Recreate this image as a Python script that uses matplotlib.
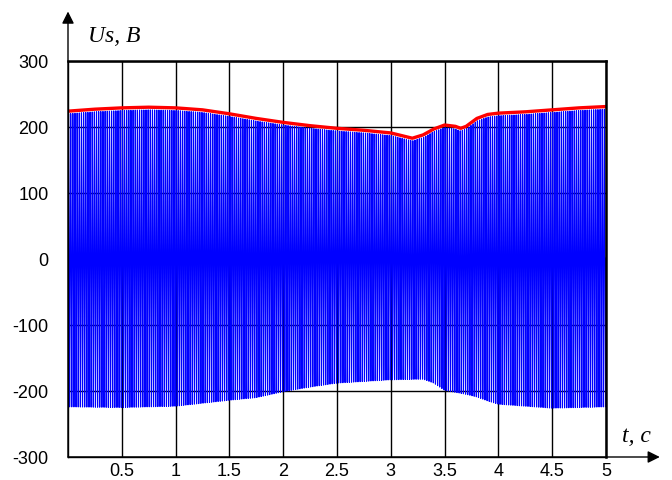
import numpy as np
import matplotlib
matplotlib.use("Agg")
import matplotlib.pyplot as plt

plt.rcParams["axes.unicode_minus"] = False

# values
f_hz = 50.0  # supply frequency of the voltage

# red envelope line (peak voltage), t in s, U in V
env_t = [0, 0.25, 0.5, 0.75, 1.0, 1.25, 1.5, 1.75, 2.0, 2.25, 2.5, 2.75,
         3.0, 3.1, 3.2, 3.3, 3.4, 3.5, 3.6, 3.65, 3.7, 3.8, 3.9, 4.0,
         4.25, 4.5, 4.75, 5.0]
env_u = [224, 227, 229, 230, 229, 226, 220, 213, 207, 202, 198, 195,
         191, 187, 183, 188, 197, 203, 201, 198, 201, 213, 219, 221,
         223, 226, 229, 231]

# blue signal: upper and lower peaks
up_t = env_t
up_u = [u - 4 for u in env_u]
lo_t = [0, 0.5, 1.0, 1.5, 1.75, 2.0, 2.25, 2.5, 3.0, 3.3, 3.4, 3.5,
        3.7, 3.8, 3.9, 4.0, 4.5, 5.0]
lo_u = [-224, -225, -223, -214, -210, -201, -194, -188, -183, -182, -188,
        -199, -205, -209, -215, -220, -226, -224]

xticks = [0.5, 1, 1.5, 2, 2.5, 3, 3.5, 4, 4.5, 5]
xlabels = ["0.5", "1", "1.5", "2", "2.5", "3", "3.5", "4", "4.5", "5"]
yticks = [-300, -200, -100, 0, 100, 200, 300]

t = np.linspace(0, 5, 40001)
upper = np.interp(t, up_t, up_u)
lower = np.interp(t, lo_t, lo_u)
us = (upper + lower) / 2 + (upper - lower) / 2 * np.sin(2 * np.pi * f_hz * t)

fig = plt.figure(figsize=(6.72, 4.8), dpi=100)
ax = fig.add_axes([68 / 672, 1 - 457 / 480, 538 / 672, 396 / 480])

ax.plot(t, us, color="#0000ff", lw=0.8)
ax.plot(env_t, env_u, color="#ff0000", lw=2.4)

ax.set_xlim(0, 5)
ax.set_ylim(-300, 300)
ax.set_xticks(xticks)
ax.set_xticklabels(xlabels)
ax.set_yticks(yticks)
ax.grid(True, color="black", lw=1.0)
ax.tick_params(length=0, labelsize=13)
ax.tick_params(axis="x", pad=4)
ax.tick_params(axis="y", pad=14)
for lab in ax.get_xticklabels() + ax.get_yticklabels():
    lab.set_fontfamily("Liberation Sans")

for s in ["top", "right"]:
    ax.spines[s].set_linewidth(1.8)
for s in ["left", "bottom"]:
    ax.spines[s].set_linewidth(1.0)

# axis arrows
ax.annotate("", xy=(0, 1.125), xytext=(0, 0.0), xycoords="axes fraction",
            arrowprops=dict(arrowstyle="-|>", color="black", lw=1.0,
                            mutation_scale=18, shrinkA=0, shrinkB=0),
            annotation_clip=False)
ax.annotate("", xy=(1.1, 0), xytext=(0, 0), xycoords="axes fraction",
            arrowprops=dict(arrowstyle="-|>", color="black", lw=1.0,
                            mutation_scale=18, shrinkA=0, shrinkB=0),
            annotation_clip=False)

fig.text(88 / 672, 1 - 36 / 480, "Us, B", fontsize=17, style="italic",
         family="Liberation Serif", va="center", ha="left")
fig.text(622 / 672, 1 - 436 / 480, "t, c", fontsize=17, style="italic",
         family="Liberation Serif", va="center", ha="left")

fig.savefig("out.png", dpi=100)
